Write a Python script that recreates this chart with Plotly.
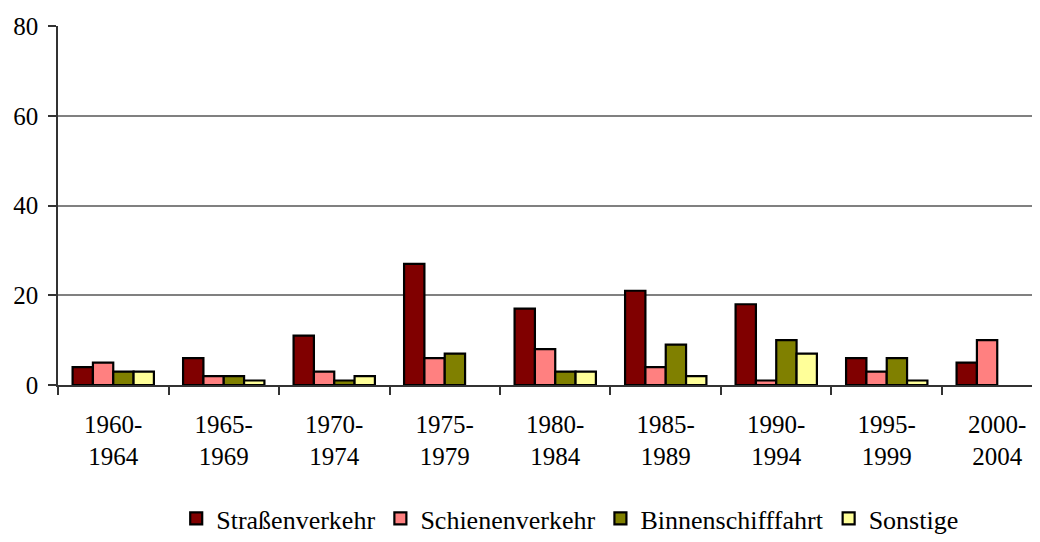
import plotly.graph_objects as go

categories = ["1960-1964", "1965-1969", "1970-1974", "1975-1979", "1980-1984",
              "1985-1989", "1990-1994", "1995-1999", "2000-2004"]
strasse = [4, 6, 11, 27, 17, 21, 18, 6, 5]
schiene = [5, 2, 3, 6, 8, 4, 1, 3, 10]
binnen = [3, 2, 1, 7, 3, 9, 10, 6, 0]
sonstige = [3, 1, 2, 0, 3, 2, 7, 1, 0]

series = [
    ("Straßenverkehr", strasse, "#800000"),
    ("Schienenverkehr", schiene, "#FF8080"),
    ("Binnenschifffahrt", binnen, "#808000"),
    ("Sonstige", sonstige, "#FFFF99"),
]

labels = [c.replace("-", "-<br>") for c in categories]

fig = go.Figure()
for name, vals, col in series:
    fig.add_trace(go.Bar(
        x=labels, y=vals, name=name,
        marker=dict(color=col,
                    line=dict(color="black",
                              width=[2.2 if v > 0 else 0 for v in vals])),
    ))

FONT = "Liberation Serif, Times New Roman, serif"
fig.update_layout(
    width=1032, height=534,
    paper_bgcolor="white", plot_bgcolor="white",
    margin=dict(l=50, r=0, t=18, b=157, autoexpand=False),
    barmode="group", bargap=0.264, bargroupgap=0,
    font=dict(family=FONT, size=25, color="black"),
    showlegend=True,
    legend=dict(
        orientation="h", xref="container", yref="container",
        x=0.163, xanchor="left", y=0, yanchor="bottom",
        font=dict(family=FONT, size=26, color="black"),
        itemwidth=30, tracegroupgap=0,
    ),
)
fig.update_xaxes(
    range=[-0.5, 8.387], automargin=False,
    showline=True, linecolor="#333333", linewidth=1.5,
    ticks="outside", tickson="boundaries", ticklen=8, tickcolor="#333333", tickwidth=1.5,
    showgrid=False, ticklabelstandoff=16,
    tickfont=dict(family=FONT, size=25, color="black"),
)
fig.update_yaxes(
    range=[0, 80], dtick=20, tick0=0, automargin=False,
    showline=True, linecolor="#333333", linewidth=1.5,
    ticks="outside", ticklen=8, tickcolor="#333333", tickwidth=1.5,
    showgrid=True, gridcolor="#808080", gridwidth=1.5,
    zeroline=False, ticklabelstandoff=5,
    tickfont=dict(family=FONT, size=25, color="black"),
)

fig.write_html("out.html")
